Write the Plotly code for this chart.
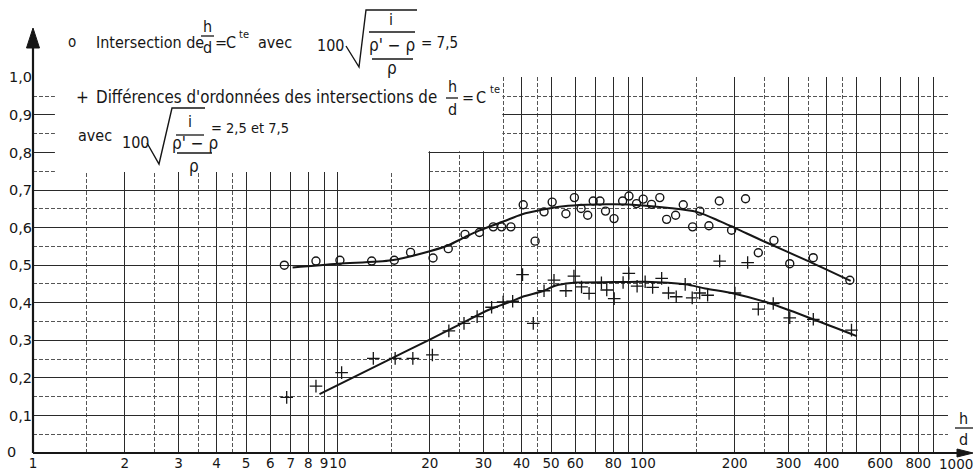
import plotly.graph_objects as go

# ---- measured points: h/d (log scale) against ordinate ----
circ_x = [6.67, 8.47, 10.15, 12.9, 15.3, 17.3, 20.5, 23.0, 26.1, 29.1,
          32.3, 34.4, 36.9, 40.5, 44.3, 47.4, 50.4, 55.9, 59.6, 62.7,
          65.9, 68.7, 72.3, 75.4, 80.4, 85.8, 90.0, 95.3, 100.2, 106.7,
          113.6, 119.6, 128.0, 135.6, 145.5, 153.7, 164.6, 178.0, 195.3, 217.0,
          239.0, 268.9, 303.0, 361.8, 477.0]
circ_y = [0.500, 0.511, 0.513, 0.511, 0.513, 0.534, 0.519, 0.544, 0.582, 0.587,
          0.602, 0.602, 0.602, 0.661, 0.564, 0.642, 0.668, 0.637, 0.680, 0.651,
          0.633, 0.671, 0.671, 0.644, 0.624, 0.671, 0.684, 0.664, 0.676, 0.662,
          0.680, 0.622, 0.633, 0.661, 0.602, 0.644, 0.605, 0.671, 0.593, 0.677,
          0.533, 0.566, 0.504, 0.520, 0.460]

plus_x = [6.79, 8.47, 10.28, 13.06, 15.4, 17.6, 20.4, 23.1, 25.9, 28.6,
          31.9, 34.8, 37.4, 40.3, 43.7, 47.4, 51.1, 55.9, 59.4, 62.9,
          66.6, 73.1, 76.1, 80.5, 86.1, 89.9, 95.7, 101.7, 107.6, 115.2,
          121.3, 128.6, 137.6, 145.1, 153.5, 163.0, 178.5, 200.3, 220.5, 239.0,
          267.5, 303.0, 362.0, 483.0]
plus_y = [0.148, 0.178, 0.214, 0.252, 0.252, 0.252, 0.261, 0.325, 0.345, 0.363,
          0.388, 0.402, 0.404, 0.475, 0.345, 0.432, 0.460, 0.432, 0.471, 0.442,
          0.425, 0.453, 0.434, 0.411, 0.454, 0.478, 0.444, 0.456, 0.441, 0.465,
          0.426, 0.416, 0.449, 0.413, 0.426, 0.420, 0.511, 0.426, 0.507, 0.383,
          0.398, 0.360, 0.356, 0.327]

# hand-drawn mean curves through each cloud
curve1_x = [7.1, 10, 15, 20, 23, 26, 29, 35, 40, 47, 55, 65, 80, 100, 120, 150, 180, 250, 350, 480]
curve1_y = [0.494, 0.504, 0.513, 0.537, 0.553, 0.574, 0.592, 0.617, 0.635, 0.648,
            0.657, 0.661, 0.662, 0.659, 0.653, 0.642, 0.616, 0.563, 0.510, 0.458]
curve2_x = [8.7, 15, 20, 25, 31.4, 37.4, 40.3, 47.4, 51, 56, 60.6, 80, 101.7, 137.6, 160, 200, 262, 362, 503]
curve2_y = [0.157, 0.252, 0.302, 0.342, 0.382, 0.405, 0.416, 0.432, 0.444, 0.451,
            0.454, 0.455, 0.456, 0.449, 0.438, 0.424, 0.398, 0.356, 0.311]

# ---- axis ticks ----
x_major = [1, 2, 3, 4, 5, 6, 7, 8, 9, 10, 20, 30, 40, 50, 60, 70, 80, 90, 100,
           200, 300, 400, 500, 600, 700, 800, 900, 1000]
x_labels = ["1", "2", "3", "4", "5", "6", "7", "8", "9", "10", "20", "30", "40", "50", "60", "",
            "80", "", "100", "200", "300", "400", "", "600", "", "800", "", ""]
x_minor = [1.5, 2.5, 3.5, 4.5, 15, 25, 35, 45, 150, 250, 350, 450]
y_major = [0, 0.1, 0.2, 0.3, 0.4, 0.5, 0.6, 0.7, 0.8, 0.9, 1.0]
y_labels = ["", "0,1", "0,2", "0,3", "0,4", "0,5", "0,6", "0,7", "0,8", "0,9", "1,0"]
y_minor = [0.05, 0.15, 0.25, 0.35, 0.45, 0.55, 0.65, 0.75, 0.85, 0.95]

INK = "#161616"
W, H = 974, 475
L, R, T, B = 33, 26, 77, 22
TEXT_FONT = "Liberation Sans Narrow, DejaVu Sans Condensed, Liberation Sans, sans-serif"
TICK_FONT = "DejaVu Sans"


def px(x):
    return (x - L) / (W - L - R)


def py(y):
    return (H - B - y) / (H - T - B)


fig = go.Figure()

fig.add_trace(go.Scatter(x=curve1_x, y=curve1_y, mode="lines",
                         line=dict(color=INK, width=2, shape="spline", smoothing=0.8),
                         hoverinfo="skip"))
fig.add_trace(go.Scatter(x=curve2_x, y=curve2_y, mode="lines",
                         line=dict(color=INK, width=2, shape="spline", smoothing=0.8),
                         hoverinfo="skip"))
fig.add_trace(go.Scatter(x=circ_x, y=circ_y, mode="markers",
                         marker=dict(symbol="circle-open", size=8, color=INK,
                                     line=dict(color=INK, width=1.4))))
fig.add_trace(go.Scatter(x=plus_x, y=plus_y, mode="markers",
                         marker=dict(symbol="cross-thin", size=9, color=INK,
                                     line=dict(color=INK, width=1.3))))

# blank area behind the key: the grid is interrupted there
for x0, x1, y0, y1 in [(1.18, 34.6, 0.803, 1.02), (1.18, 19.8, 0.748, 0.81)]:
    fig.add_shape(type="rect", xref="x", yref="y", x0=x0, x1=x1, y0=y0, y1=y1,
                  fillcolor="white", line=dict(width=0), layer="above")

# axis lines with arrow heads
fig.add_shape(type="line", xref="paper", yref="paper", x0=px(33), x1=px(33), y0=py(453), y1=py(40),
              line=dict(color=INK, width=2.2))
fig.add_shape(type="path", xref="paper", yref="paper",
              path=f"M {px(33)},{py(28)} L {px(39.5)},{py(48)} L {px(26.5)},{py(48)} Z",
              fillcolor=INK, line=dict(color=INK, width=1))
fig.add_shape(type="line", xref="paper", yref="paper", x0=px(33), x1=px(962), y0=py(453), y1=py(453),
              line=dict(color=INK, width=2.2))
fig.add_shape(type="path", xref="paper", yref="paper",
              path=f"M {px(973)},{py(453)} L {px(957)},{py(449)} L {px(957)},{py(457)} Z",
              fillcolor=INK, line=dict(color=INK, width=1))


def label(text, x, y, size=18, anchor="left", family=TEXT_FONT):
    fig.add_annotation(text=text, x=px(x), y=py(y), xref="paper", yref="paper",
                       showarrow=False, xanchor=anchor, yanchor="middle", borderpad=0,
                       font=dict(family=family, size=size, color=INK))


def bar(x0, x1, y):
    fig.add_shape(type="line", xref="paper", yref="paper", x0=px(x0), x1=px(x1),
                  y0=py(y), y1=py(y), line=dict(color=INK, width=1.3))


def radical(pts):
    d = "M " + " L ".join(f"{px(a)},{py(b)}" for a, b in pts)
    fig.add_shape(type="path", xref="paper", yref="paper", path=d,
                  line=dict(color=INK, width=1.4))


# end labels of both scales, set slightly off their grid lines
label("0", 6, 452, 14.5, "left", TICK_FONT)
label("1000", 956, 464, 13.5, "center", TICK_FONT)

# key, line 1
label("o", 72, 42, 15, "center")
label("Intersection de", 95, 43, 16)
label("h", 207, 27, 16, "center")
bar(201, 214, 36)
label("d", 207, 47, 16, "center")
label("=", 221, 42, 16, "center")
label("C", 231, 42, 16, "center")
label("te", 238, 34, 11)
label("avec", 257, 43, 16)
label("100", 316, 45, 16)
radical([(346, 46), (359, 67), (366, 10), (417, 10)])
label("i", 391, 20, 16, "center")
bar(369, 415, 32)
label("ρ' − ρ", 392, 45, 17, "center")
bar(372, 413, 59)
label("ρ", 392, 68, 17, "center")
label("= 7,5", 420, 43, 15)

# key, line 2
label("+", 82, 97, 17, "center")
label("Différences d'ordonnées des intersections de", 95, 97, 16.8)
label("h", 452, 87, 16, "center")
bar(446, 458, 98)
label("d", 452, 109, 16, "center")
label("=", 468, 97, 16, "center")
label("C", 481, 97, 16, "center")
label("te", 489, 90, 11)

# key, line 3
label("avec", 77, 135, 16)
label("100", 121, 142, 16)
radical([(147, 143), (159, 164), (172, 108), (205, 108)])
label("i", 190, 122, 16, "center")
bar(176, 204, 135)
label("ρ' − ρ", 195, 143, 17, "center")
bar(177, 212, 153)
label("ρ", 194, 166, 17, "center")
label("= 2,5 et 7,5", 210, 128, 14.5)

# axis title at the arrow end
label("h", 964, 418, 16, "center")
bar(955, 973, 428)
label("d", 964, 439, 16, "center")

fig.update_layout(
    width=W, height=H,
    margin=dict(l=L, r=R, t=T, b=B, autoexpand=False),
    paper_bgcolor="white", plot_bgcolor="white",
    showlegend=False,
    font=dict(family=TICK_FONT, size=14, color=INK),
)
fig.update_xaxes(
    type="log", range=[0, 3.0004], automargin=False,
    tickmode="array", tickvals=x_major, ticktext=x_labels, ticks="", tickangle=0,
    showgrid=True, gridcolor="#2a2a2a", gridwidth=1.2,
    showline=False, zeroline=False,
    minor=dict(tickmode="array", tickvals=x_minor, showgrid=True, gridcolor="#555555",
               gridwidth=0.9, griddash="4px,2px", ticks=""),
    tickfont=dict(family=TICK_FONT, size=13.5, color=INK),
)
fig.update_yaxes(
    range=[0, 1.001], automargin=False,
    tickmode="array", tickvals=y_major, ticktext=y_labels, ticks="",
    showgrid=True, gridcolor="#2a2a2a", gridwidth=1.2,
    showline=False, zeroline=False,
    minor=dict(tickmode="array", tickvals=y_minor, showgrid=True, gridcolor="#555555",
               gridwidth=0.9, griddash="4px,2px", ticks=""),
    tickfont=dict(family=TICK_FONT, size=14.5, color=INK),
)

fig.write_html("out.html")
